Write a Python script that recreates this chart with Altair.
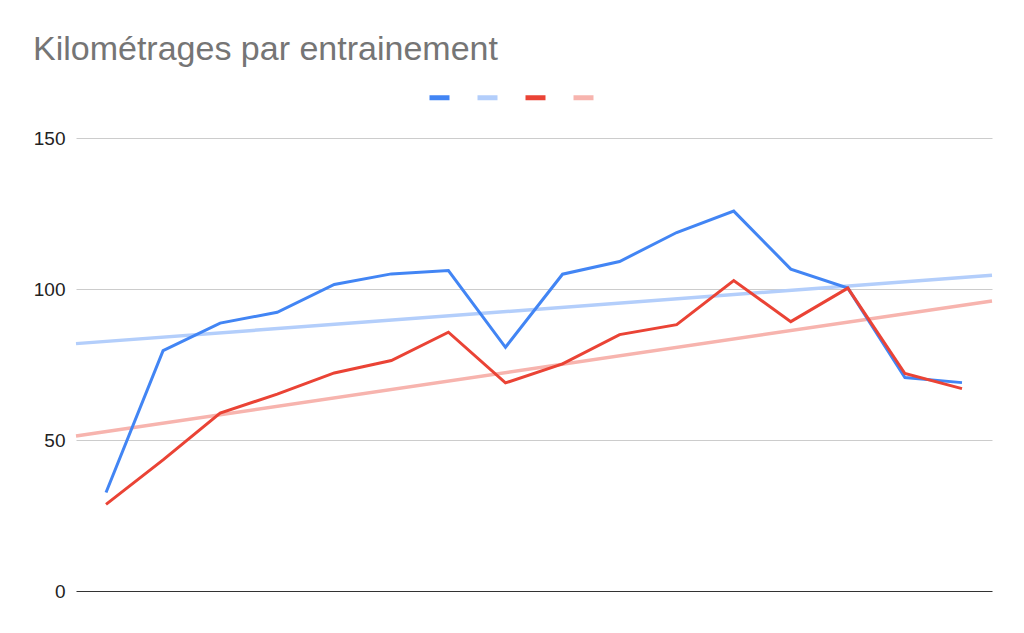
import altair as alt
import pandas as pd

# Data
seance = list(range(16))
serie_bleue = [32.6, 79.6, 88.7, 92.3, 101.5, 105.0, 106.1, 80.7, 104.9, 109.1, 118.7, 125.8, 106.6, 100.3, 70.7, 69.0]
serie_rouge = [28.7, 43.4, 58.9, 65.2, 72.2, 76.3, 85.7, 68.9, 75.2, 84.9, 88.2, 102.8, 89.2, 100.3, 72.0, 67.0]
y_ticks = [0, 50, 100, 150]

noms = ["Série 1", "Tendance 1", "Série 2", "Tendance 2"]
couleurs = ["#4285F4", "#B3CEFB", "#EA4335", "#F7B4AE"]

df = pd.DataFrame(
    {"x": seance * 2,
     "km": serie_bleue + serie_rouge,
     "serie": ["Série 1"] * 16 + ["Série 2"] * 16}
)

x_dom = [-0.526, 15.526]
x_enc = alt.X("x:Q", scale=alt.Scale(domain=x_dom, nice=False, zero=False), axis=None)
y_enc = alt.Y(
    "km:Q",
    scale=alt.Scale(domain=[0, 150], nice=False),
    title=None,
    axis=alt.Axis(
        values=y_ticks,
        grid=True,
        gridColor=alt.condition("datum.value === 0", alt.value("#333333"), alt.value("#cccccc")),
        gridWidth=1,
        domain=False,
        ticks=False,
        labelPadding=11,
        labelFont="Liberation Sans",
        labelFontSize=19,
        labelColor="#222222",
    ),
)
color_enc = alt.Color(
    "serie:N",
    scale=alt.Scale(domain=noms, range=couleurs),
    legend=alt.Legend(
        title=None,
        orient="none",
        legendX=351,
        legendY=-53,
        direction="horizontal",
        columns=4,
        symbolType="stroke",
        symbolSize=400,
        symbolStrokeWidth=5,
        labelExpr="''",
        labelOffset=0,
        labelFontSize=10,
        columnPadding=7,
    ),
)

base = alt.Chart(df)

tendances = (
    base.transform_regression("x", "km", groupby=["serie"], extent=x_dom)
    .transform_calculate(serie="datum.serie === 'Série 1' ? 'Tendance 1' : 'Tendance 2'")
    .mark_line(strokeWidth=3.5, strokeCap="butt")
    .encode(x=x_enc, y=y_enc, color=color_enc, detail="serie:N")
)

bleue = (
    base.transform_filter("datum.serie === 'Série 1'")
    .mark_line(strokeWidth=3, strokeJoin="miter", strokeCap="butt")
    .encode(x=x_enc, y=y_enc, color=color_enc)
)
rouge = (
    base.transform_filter("datum.serie === 'Série 2'")
    .mark_line(strokeWidth=3, strokeJoin="miter", strokeCap="butt")
    .encode(x=x_enc, y=y_enc, color=color_enc)
)

chart = (
    alt.layer(tendances, bleue, rouge)
    .properties(
        width=916,
        height=453,
        autosize=alt.AutoSizeParams(type="none"),
        padding={"left": 68, "top": 130, "right": 16, "bottom": 20},
        view=alt.ViewBackground(strokeWidth=0, strokeOpacity=0),
        title=alt.TitleParams(
            "Kilométrages par entrainement",
            anchor="start",
            frame="group",
            dx=-43,
            offset=0,
            dy=9,
            baseline="alphabetic",
            font="Liberation Sans",
            fontSize=34,
            fontWeight="normal",
            color="#757575",
        ),
    )
    .configure_view(strokeWidth=0, strokeOpacity=0)
    .configure(background="white")
)

chart.save("out.html", embed_options={"renderer": "svg", "actions": False})
